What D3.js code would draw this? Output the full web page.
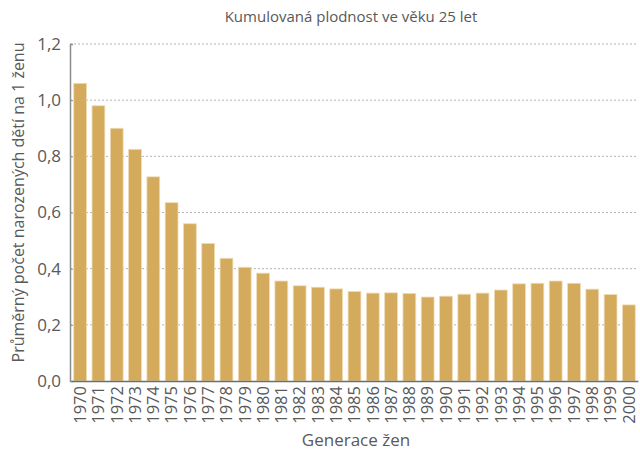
<!DOCTYPE html>
<html>
<head>
<meta charset="utf-8">
<script src="https://cdn.jsdelivr.net/npm/d3@7"></script>
<style>
  body { margin: 0; background: #fff; }
  text { font-family: "Open Sans", sans-serif; fill: #595959; }
</style>
</head>
<body>
<div id="chart"></div>
<script>
// generace žen (rok narození)
var years = ["1970","1971","1972","1973","1974","1975","1976","1977","1978","1979",
  "1980","1981","1982","1983","1984","1985","1986","1987","1988","1989",
  "1990","1991","1992","1993","1994","1995","1996","1997","1998","1999","2000"];

// kumulovaná plodnost ve věku 25 let
var fertility = [1.06, 0.98, 0.90, 0.825, 0.727, 0.635, 0.56, 0.49, 0.437, 0.405,
  0.384, 0.356, 0.339, 0.334, 0.328, 0.319, 0.313, 0.314, 0.312, 0.299,
  0.302, 0.309, 0.313, 0.324, 0.346, 0.348, 0.356, 0.348, 0.327, 0.308, 0.271];

var yTicks = [0, 0.2, 0.4, 0.6, 0.8, 1.0, 1.2];

var data = years.map(function(y, i) { return {year: y, value: fertility[i]}; });

var margin = {top: 44, right: 2, bottom: 74, left: 70},
    width = 640 - margin.left - margin.right,
    height = 455 - margin.top - margin.bottom;

var svg = d3.select("#chart").append("svg")
    .attr("width", 640)
    .attr("height", 455)
  .append("g")
    .attr("transform", "translate(" + margin.left + "," + margin.top + ")");

var x = d3.scaleBand()
    .domain(years)
    .range([1, width])
    .paddingInner(0.3)
    .paddingOuter(0.15);

var y = d3.scaleLinear()
    .domain([0, 1.2])
    .range([height, 0]);

var fmt = function(d) { return d3.format(".1f")(d).replace(".", ","); };

// gridlines
svg.append("g")
  .selectAll("line")
  .data(yTicks.slice(1))
  .enter().append("line")
    .attr("x1", 0)
    .attr("x2", width)
    .attr("y1", function(d) { return y(d); })
    .attr("y2", function(d) { return y(d); })
    .attr("stroke", "#b3b3b3")
    .attr("stroke-dasharray", "2,2");

// bars
svg.selectAll(".bar")
    .data(data)
  .enter().append("rect")
    .attr("class", "bar")
    .attr("x", function(d) { return x(d.year); })
    .attr("width", x.bandwidth())
    .attr("y", function(d) { return y(d.value); })
    .attr("height", function(d) { return height - y(d.value); })
    .attr("fill", "#d4aa5c")
    .attr("stroke", "#efdcb5")
    .attr("stroke-width", 0.8);

// y axis
var yAxis = svg.append("g")
    .attr("class", "axisLeft")
    .call(d3.axisLeft(y).tickValues(yTicks).tickFormat(fmt).tickSize(-3).tickPadding(9));

yAxis.select(".domain").attr("stroke", "#8c8c8c").attr("stroke-width", 1.5);
yAxis.selectAll(".tick line").attr("stroke", "#8c8c8c");
yAxis.selectAll(".tick text")
    .attr("font-size", "17px")
    .style("font-family", "'Open Sans', sans-serif")
    .attr("fill", "#595959");

// x axis
var xAxis = svg.append("g")
    .attr("class", "x-axis")
    .attr("transform", "translate(0," + height + ")")
    .call(d3.axisBottom(x).tickSize(0));

xAxis.select(".domain").attr("stroke", "#6e6e6e").attr("stroke-width", 1.5);
xAxis.selectAll(".tick text")
    .attr("font-size", "16.5px")
    .style("font-family", "'Open Sans', sans-serif")
    .attr("fill", "#595959")
    .attr("transform", "rotate(-90)")
    .attr("text-anchor", "end")
    .attr("x", -5)
    .attr("y", 0)
    .attr("dy", "0.35em");

// titles
svg.append("text")
    .attr("x", 281)
    .attr("y", -22)
    .attr("text-anchor", "middle")
    .attr("font-size", "15px")
    .text("Kumulovaná plodnost ve věku 25 let");

svg.append("text")
    .attr("text-anchor", "middle")
    .attr("font-size", "16px")
    .attr("transform", "translate(-46," + (height / 2 - 10) + ") rotate(-90)")
    .text("Průměrný počet narozených dětí na 1 ženu");

svg.append("text")
    .attr("x", 286)
    .attr("y", height + 65)
    .attr("text-anchor", "middle")
    .attr("font-size", "17px")
    .text("Generace žen");
</script>
</body>
</html>
